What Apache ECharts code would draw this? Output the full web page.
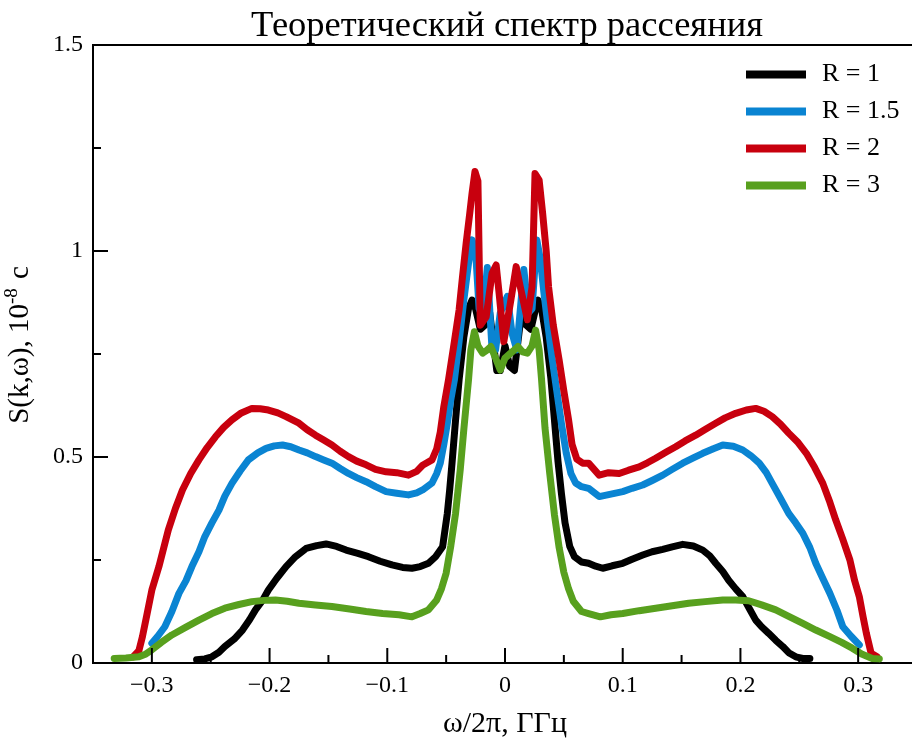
<!DOCTYPE html>
<html>
<head>
<meta charset="utf-8">
<script src="https://cdn.jsdelivr.net/npm/echarts@6/dist/echarts.min.js"></script>
<style>
  html, body { margin: 0; padding: 0; background: #fff; }
  #chart { width: 912px; height: 738px; }
</style>
</head>
<body>
<div id="chart"></div>
<script>
// tick positions
const majorX = [-0.3, -0.2, -0.1, 0, 0.1, 0.2, 0.3];
const minorX = [-0.25, -0.15, -0.05, 0.05, 0.15, 0.25];
const majorY = [0.5, 1];
const minorY = [0.25, 0.75, 1.25];

// [omega/2pi, S] for each R
const r1 = [
  [-0.262, 0.008], [-0.255, 0.01], [-0.249, 0.015], [-0.243, 0.026], [-0.238, 0.04], [-0.230, 0.058],
  [-0.223, 0.08], [-0.217, 0.105], [-0.212, 0.129], [-0.206, 0.152], [-0.201, 0.177], [-0.194, 0.205],
  [-0.186, 0.234], [-0.178, 0.258], [-0.169, 0.278], [-0.160, 0.285], [-0.152, 0.289], [-0.143, 0.283],
  [-0.135, 0.274], [-0.125, 0.266], [-0.116, 0.258], [-0.106, 0.247], [-0.096, 0.238], [-0.087, 0.232],
  [-0.079, 0.23], [-0.072, 0.234], [-0.065, 0.242], [-0.059, 0.258], [-0.053, 0.282], [-0.049, 0.363],
  [-0.047, 0.42], [-0.045, 0.485], [-0.042, 0.59], [-0.039, 0.687], [-0.035, 0.79], [-0.031, 0.86],
  [-0.028, 0.881], [-0.025, 0.86], [-0.021, 0.81], [-0.017, 0.82], [-0.013, 0.85], [-0.010, 0.78],
  [-0.007, 0.71], [-0.004, 0.71], [0.0, 0.77], [0.004, 0.72], [0.008, 0.71], [0.011, 0.78],
  [0.014, 0.85], [0.018, 0.82], [0.022, 0.81], [0.026, 0.86], [0.028, 0.881], [0.031, 0.86],
  [0.035, 0.79], [0.039, 0.69], [0.042, 0.59], [0.045, 0.49], [0.048, 0.41], [0.051, 0.34],
  [0.055, 0.283], [0.059, 0.258], [0.065, 0.245], [0.071, 0.242], [0.077, 0.235], [0.083, 0.23],
  [0.091, 0.236], [0.100, 0.242], [0.108, 0.252], [0.117, 0.262], [0.125, 0.27], [0.134, 0.276],
  [0.142, 0.282], [0.151, 0.288], [0.160, 0.284], [0.168, 0.274], [0.174, 0.26], [0.179, 0.242],
  [0.185, 0.222], [0.190, 0.201], [0.196, 0.18], [0.202, 0.161], [0.208, 0.13], [0.213, 0.104],
  [0.218, 0.088], [0.224, 0.072], [0.230, 0.055], [0.236, 0.04], [0.241, 0.025], [0.247, 0.015],
  [0.253, 0.011], [0.259, 0.011]
];

const r15 = [
  [-0.300, 0.048], [-0.295, 0.065], [-0.289, 0.088], [-0.283, 0.125], [-0.277, 0.169], [-0.271, 0.2],
  [-0.266, 0.234], [-0.260, 0.27], [-0.255, 0.307], [-0.249, 0.34], [-0.243, 0.371], [-0.238, 0.405],
  [-0.232, 0.436], [-0.225, 0.466], [-0.218, 0.493], [-0.210, 0.51], [-0.203, 0.521], [-0.196, 0.527],
  [-0.189, 0.529], [-0.182, 0.525], [-0.175, 0.517], [-0.168, 0.51], [-0.161, 0.501], [-0.154, 0.493],
  [-0.147, 0.485], [-0.140, 0.472], [-0.133, 0.46], [-0.126, 0.45], [-0.118, 0.44], [-0.110, 0.428],
  [-0.101, 0.416], [-0.092, 0.412], [-0.082, 0.408], [-0.075, 0.413], [-0.070, 0.42], [-0.062, 0.437],
  [-0.058, 0.46], [-0.055, 0.485], [-0.052, 0.53], [-0.049, 0.582], [-0.046, 0.64], [-0.043, 0.687],
  [-0.039, 0.78], [-0.035, 0.88], [-0.031, 0.97], [-0.028, 1.027], [-0.025, 1.0], [-0.022, 0.86],
  [-0.019, 0.84], [-0.015, 0.96], [-0.011, 0.76], [-0.008, 0.76], [-0.004, 0.85], [0.002, 0.89],
  [0.006, 0.8], [0.010, 0.76], [0.016, 0.955], [0.020, 0.85], [0.023, 0.86], [0.027, 1.027],
  [0.030, 0.98], [0.033, 0.9], [0.036, 0.83], [0.040, 0.74], [0.044, 0.66], [0.048, 0.58],
  [0.052, 0.51], [0.056, 0.46], [0.060, 0.437], [0.065, 0.428], [0.071, 0.424], [0.080, 0.404],
  [0.090, 0.41], [0.100, 0.416], [0.108, 0.424], [0.117, 0.432], [0.125, 0.443], [0.134, 0.456],
  [0.142, 0.47], [0.151, 0.485], [0.160, 0.498], [0.168, 0.509], [0.177, 0.52], [0.185, 0.529],
  [0.194, 0.526], [0.202, 0.517], [0.209, 0.503], [0.216, 0.485], [0.222, 0.462], [0.227, 0.436],
  [0.234, 0.4], [0.241, 0.363], [0.247, 0.34], [0.253, 0.315], [0.259, 0.28], [0.264, 0.242],
  [0.270, 0.205], [0.276, 0.169], [0.282, 0.128], [0.287, 0.088], [0.294, 0.065], [0.301, 0.044]
];

const r2 = [
  [-0.316, 0.015], [-0.311, 0.03], [-0.308, 0.064], [-0.304, 0.12], [-0.300, 0.177], [-0.294, 0.234],
  [-0.286, 0.323], [-0.280, 0.375], [-0.274, 0.42], [-0.267, 0.46], [-0.260, 0.493], [-0.253, 0.523],
  [-0.246, 0.549], [-0.239, 0.572], [-0.232, 0.590], [-0.224, 0.607], [-0.215, 0.618], [-0.208, 0.617],
  [-0.201, 0.614], [-0.193, 0.607], [-0.186, 0.598], [-0.175, 0.582], [-0.168, 0.566], [-0.161, 0.553],
  [-0.154, 0.541], [-0.147, 0.529], [-0.140, 0.514], [-0.133, 0.501], [-0.126, 0.490], [-0.118, 0.481],
  [-0.110, 0.470], [-0.101, 0.464], [-0.092, 0.462], [-0.082, 0.456], [-0.075, 0.465], [-0.070, 0.48],
  [-0.062, 0.493], [-0.058, 0.52], [-0.055, 0.56], [-0.052, 0.622], [-0.048, 0.687], [-0.043, 0.78],
  [-0.039, 0.857], [-0.036, 0.94], [-0.033, 1.019], [-0.030, 1.09], [-0.028, 1.14], [-0.0255, 1.193],
  [-0.023, 1.17], [-0.021, 0.82], [-0.016, 0.84], [-0.011, 0.946], [-0.0075, 0.966], [-0.005, 0.897],
  [-0.001, 0.78], [0.005, 0.881], [0.0095, 0.962], [0.013, 0.913], [0.019, 0.833], [0.023, 0.913],
  [0.0255, 1.188], [0.029, 1.172], [0.032, 1.091], [0.035, 1.0], [0.037, 0.913], [0.041, 0.82],
  [0.046, 0.735], [0.050, 0.66], [0.054, 0.59], [0.057, 0.53], [0.061, 0.495], [0.066, 0.485],
  [0.071, 0.485], [0.080, 0.456], [0.088, 0.462], [0.097, 0.46], [0.105, 0.468], [0.114, 0.476],
  [0.121, 0.486], [0.128, 0.497], [0.137, 0.512], [0.145, 0.525], [0.153, 0.539], [0.162, 0.553],
  [0.170, 0.567], [0.179, 0.582], [0.187, 0.595], [0.196, 0.606], [0.205, 0.614], [0.213, 0.618],
  [0.220, 0.611], [0.227, 0.598], [0.234, 0.58], [0.241, 0.558], [0.249, 0.535], [0.256, 0.509],
  [0.263, 0.475], [0.270, 0.436], [0.276, 0.39], [0.281, 0.347], [0.287, 0.30], [0.293, 0.25],
  [0.297, 0.2], [0.301, 0.161], [0.304, 0.115], [0.307, 0.072], [0.311, 0.024], [0.316, 0.015]
];

const r3 = [
  [-0.332, 0.011], [-0.322, 0.012], [-0.311, 0.015], [-0.305, 0.022], [-0.300, 0.032], [-0.292, 0.05],
  [-0.283, 0.068], [-0.271, 0.087], [-0.260, 0.104], [-0.249, 0.12], [-0.238, 0.133], [-0.226, 0.142],
  [-0.215, 0.149], [-0.205, 0.152], [-0.195, 0.153], [-0.185, 0.15], [-0.175, 0.145], [-0.161, 0.141],
  [-0.147, 0.137], [-0.132, 0.131], [-0.118, 0.125], [-0.104, 0.12], [-0.090, 0.117], [-0.079, 0.112],
  [-0.072, 0.12], [-0.065, 0.129], [-0.058, 0.153], [-0.054, 0.18], [-0.050, 0.218], [-0.046, 0.285],
  [-0.042, 0.363], [-0.038, 0.47], [-0.035, 0.566], [-0.031, 0.687], [-0.029, 0.76], [-0.026, 0.804],
  [-0.023, 0.77], [-0.019, 0.752], [-0.015, 0.76], [-0.012, 0.768], [-0.008, 0.74], [-0.004, 0.711],
  [0.0, 0.74], [0.004, 0.75], [0.008, 0.76], [0.011, 0.768], [0.015, 0.755], [0.019, 0.752],
  [0.023, 0.77], [0.026, 0.808], [0.029, 0.76], [0.031, 0.69], [0.034, 0.57], [0.038, 0.46],
  [0.042, 0.36], [0.046, 0.28], [0.050, 0.22], [0.054, 0.18], [0.058, 0.15], [0.065, 0.125],
  [0.071, 0.12], [0.081, 0.112], [0.090, 0.117], [0.100, 0.12], [0.114, 0.127], [0.128, 0.133],
  [0.142, 0.139], [0.156, 0.145], [0.170, 0.149], [0.185, 0.153], [0.196, 0.153], [0.207, 0.151],
  [0.218, 0.141], [0.230, 0.129], [0.241, 0.113], [0.253, 0.096], [0.264, 0.08], [0.276, 0.064],
  [0.286, 0.05], [0.295, 0.036], [0.303, 0.022], [0.312, 0.011], [0.318, 0.01]
];

const seriesNames = ['R = 1', 'R = 1.5', 'R = 2', 'R = 3'];
const seriesColors = ['#000000', '#0a84d2', '#c8000e', '#58a01e'];
const seriesData = [r1, r15, r2, r3];

const FONT = 'Liberation Serif';
const myChart = echarts.init(document.getElementById('chart'));

// only multiples of 0.1 get a label, with a real minus sign
const fmtX = v => {
    const t = Math.round(v * 10);
    if (Math.abs(v * 10 - t) > 1e-6) return '';
    const s = String(Math.abs(t) / 10);
    return t < 0 ? '\u2212' + s : s;
};

const option = {
    animation: false,
    backgroundColor: '#fff',
    title: {
        text: 'Теоретический спектр рассеяния',
        left: 502,
        textAlign: 'center',
        top: 3,
        textStyle: { fontFamily: FONT, fontSize: 36.5, fontWeight: 'normal', color: '#000' }
    },
    legend: {
        orient: 'vertical',
        left: 746,
        top: 61,
        padding: 0,
        itemWidth: 60,
        itemHeight: 8,
        itemGap: 10,
        icon: 'rect',
        data: seriesNames,
        textStyle: { fontFamily: FONT, fontSize: 26, color: '#000', lineHeight: 27, padding: [0, 0, 0, 11] }
    },
    grid: {
        left: 93,
        right: -5,
        top: 45,
        bottom: 75,
        outerBoundsMode: 'none',
        show: true,
        borderColor: '#000',
        borderWidth: 2,
        backgroundColor: 'transparent'
    },
    xAxis: {
        type: 'value',
        min: -0.35,
        max: 0.35,
        splitNumber: 7,
        name: 'ω/2π, ГГц',
        nameLocation: 'middle',
        nameGap: 46,
        nameTextStyle: { fontFamily: FONT, fontSize: 30, color: '#000' },
        axisLine: { show: true, onZero: false, lineStyle: { color: '#000', width: 2 } },
        axisTick: { show: false },
        axisLabel: { formatter: fmtX, fontFamily: FONT, fontSize: 24, color: '#000', margin: 11 },
        splitLine: { show: false }
    },
    yAxis: {
        type: 'value',
        min: 0,
        max: 1.5,
        interval: 0.5,
        name: '{a|S(k,ω), 10}{s|-8}{a| с}',
        nameLocation: 'middle',
        nameGap: 58,
        nameTextStyle: {
            padding: [0, 0, 0, 18],
            rich: {
                a: { fontFamily: FONT, fontSize: 29, color: '#000', lineHeight: 32, verticalAlign: 'bottom' },
                s: { fontFamily: FONT, fontSize: 19, color: '#000', lineHeight: 32, verticalAlign: 'top', padding: [0, 2, 0, 0] }
            }
        },
        axisLine: { show: true, onZero: false, lineStyle: { color: '#000', width: 2 } },
        axisTick: { show: false },
        axisLabel: { fontFamily: FONT, fontSize: 24, color: '#000', margin: 10 },
        splitLine: { show: false }
    },
    series: seriesData.map((d, i) => ({
        name: seriesNames[i],
        type: 'line',
        data: d,
        showSymbol: false,
        symbol: 'none',
        smooth: false,
        color: seriesColors[i],
        lineStyle: { color: seriesColors[i], width: 7, join: 'round', cap: 'round' },
        z: 2 + i
    }))
};

myChart.setOption(option);

// inward ticks, placed through the axes' own scales
const px = v => myChart.convertToPixel({ xAxisIndex: 0 }, v);
const py = v => myChart.convertToPixel({ yAxisIndex: 0 }, v);
const tick = (x1, y1, x2, y2) => ({
    type: 'line',
    silent: true,
    z: 100,
    shape: { x1, y1, x2, y2 },
    style: { stroke: '#000', lineWidth: 2 }
});
const xBase = py(0);
const yBase = px(-0.35);
const ticks = [
    ...majorX.map(v => tick(px(v), xBase, px(v), xBase - 15)),
    ...minorX.map(v => tick(px(v), xBase, px(v), xBase - 8)),
    ...majorY.map(v => tick(yBase, py(v), yBase + 15, py(v))),
    ...minorY.map(v => tick(yBase, py(v), yBase + 8, py(v)))
];
myChart.setOption({ graphic: { elements: ticks } });

window.addEventListener('resize', () => myChart.resize());
</script>
</body>
</html>
